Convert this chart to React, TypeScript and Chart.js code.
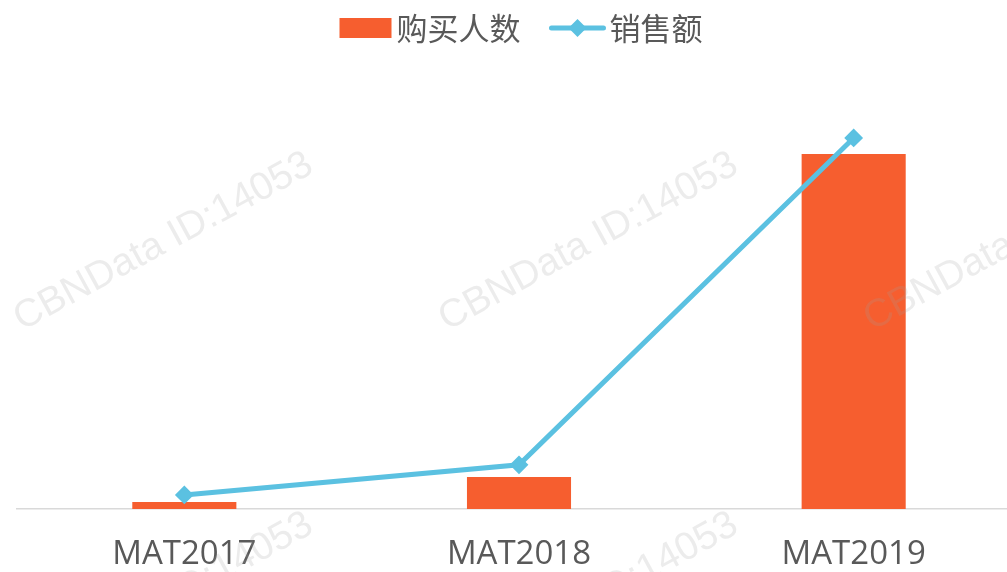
import React, { useEffect, useRef } from 'react';
import { Chart, registerables } from 'chart.js';

Chart.register(...registerables);

const categories: string[] = ['MAT2017', 'MAT2018', 'MAT2019'];
const buyersIndex: number[] = [2.0, 9.0, 100];
const salesIndex: number[] = [3.8, 11.9, 100];
const seriesNames: string[] = ['购买人数', '销售额'];
const watermarkText = 'CBNData ID:14053';

const BAR_COLOR = '#F65E2F';
const LINE_COLOR = '#5BC1E1';
const TEXT_COLOR = '#595959';
const CJK_FONT = '"Noto Sans CJK SC", "Noto Sans", sans-serif';
const LATIN_FONT = '"Open Sans", "Noto Sans CJK SC", sans-serif';

const CANVAS_W = 1021;
const CANVAS_H = 572;

const legendPlugin = {
  id: 'customLegend',
  afterDraw(chart: any) {
    const ctx: CanvasRenderingContext2D = chart.ctx;
    const ds = chart.data.datasets;
    const barDs = ds.find((d: any) => d.type === 'bar');
    const lineDs = ds.find((d: any) => d.type === 'line');
    ctx.save();
    ctx.font = `31px ${CJK_FONT}`;
    ctx.textBaseline = 'middle';
    ctx.textAlign = 'left';
    const cy = 28;
    const w1 = ctx.measureText(barDs.label).width;
    const w2 = ctx.measureText(lineDs.label).width;
    const total = 52 + 5 + w1 + 29 + 56 + 4 + w2;
    let x = 521 - total / 2;
    ctx.fillStyle = barDs.backgroundColor;
    ctx.fillRect(x, cy - 10, 52, 20);
    x += 57;
    ctx.fillStyle = TEXT_COLOR;
    ctx.fillText(barDs.label, x, cy);
    x += w1 + 29;
    ctx.strokeStyle = lineDs.borderColor;
    ctx.lineWidth = 5;
    ctx.lineCap = 'round';
    ctx.beginPath();
    ctx.moveTo(x + 2, cy);
    ctx.lineTo(x + 54, cy);
    ctx.stroke();
    ctx.fillStyle = lineDs.borderColor;
    ctx.beginPath();
    ctx.moveTo(x + 28, cy - 9);
    ctx.lineTo(x + 37, cy);
    ctx.lineTo(x + 28, cy + 9);
    ctx.lineTo(x + 19, cy);
    ctx.closePath();
    ctx.fill();
    x += 60;
    ctx.fillStyle = TEXT_COLOR;
    ctx.fillText(lineDs.label, x, cy);
    ctx.restore();
  },
};

const watermarkPlugin = {
  id: 'watermark',
  afterDraw(chart: any) {
    const ctx: CanvasRenderingContext2D = chart.ctx;
    ctx.save();
    ctx.font = '39px "Liberation Sans", Arial, sans-serif';
    ctx.fillStyle = 'rgba(160,160,160,0.2)';
    ctx.textBaseline = 'alphabetic';
    ctx.textAlign = 'left';
    for (let j = 0; j < 2; j++) {
      for (let i = 0; i < 3; i++) {
        ctx.save();
        ctx.translate(22 + i * 425, 331 + j * 360);
        ctx.rotate((-28.5 * Math.PI) / 180);
        ctx.fillText(watermarkText, 0, 0);
        ctx.restore();
      }
    }
    ctx.restore();
  },
};

export default function App() {
  const canvasRef = useRef<HTMLCanvasElement | null>(null);

  useEffect(() => {
    document.body.style.margin = '0';
    document.documentElement.style.overflow = 'hidden';
    const canvas = canvasRef.current;
    if (!canvas) return;
    const chart = new Chart(canvas, {
      type: 'bar',
      data: {
        labels: categories,
        datasets: [
          {
            type: 'line',
            label: seriesNames[1],
            data: salesIndex,
            yAxisID: 'y1',
            borderColor: LINE_COLOR,
            backgroundColor: LINE_COLOR,
            borderWidth: 5,
            pointStyle: 'rectRot',
            pointRadius: 8,
            pointBorderWidth: 2,
            pointBackgroundColor: LINE_COLOR,
            pointBorderColor: LINE_COLOR,
            tension: 0,
            clip: false,
            order: 0,
          } as any,
          {
            type: 'bar',
            label: seriesNames[0],
            data: buyersIndex,
            yAxisID: 'y',
            backgroundColor: BAR_COLOR,
            borderWidth: 0,
            barPercentage: 0.311,
            categoryPercentage: 1,
            order: 1,
          } as any,
        ],
      },
      options: {
        animation: false,
        responsive: false,
        devicePixelRatio: 1,
        layout: { autoPadding: false, padding: { top: 60, left: 17, right: 0, bottom: -28.6 } },
        plugins: {
          legend: { display: false },
          tooltip: { enabled: false },
        },
        scales: {
          x: {
            type: 'category',
            offset: true,
            grid: { display: false, drawTicks: false },
            border: { display: true, color: '#D9D9D9', width: 1.5 },
            ticks: {
              color: TEXT_COLOR,
              padding: 26,
              maxRotation: 0,
              font: { size: 33, family: LATIN_FONT },
            },
          },
          y: { display: false, min: 0, max: 126.5 },
          y1: { display: false, min: 0, max: 121 },
        },
      },
      plugins: [watermarkPlugin, legendPlugin],
    });
    return () => chart.destroy();
  }, []);

  return (
    <div style={{ position: 'fixed', left: 0, top: 0, width: CANVAS_W, height: CANVAS_H, background: '#fff' }}>
      <canvas ref={canvasRef} width={CANVAS_W} height={CANVAS_H} style={{ display: 'block' }} />
    </div>
  );
}
